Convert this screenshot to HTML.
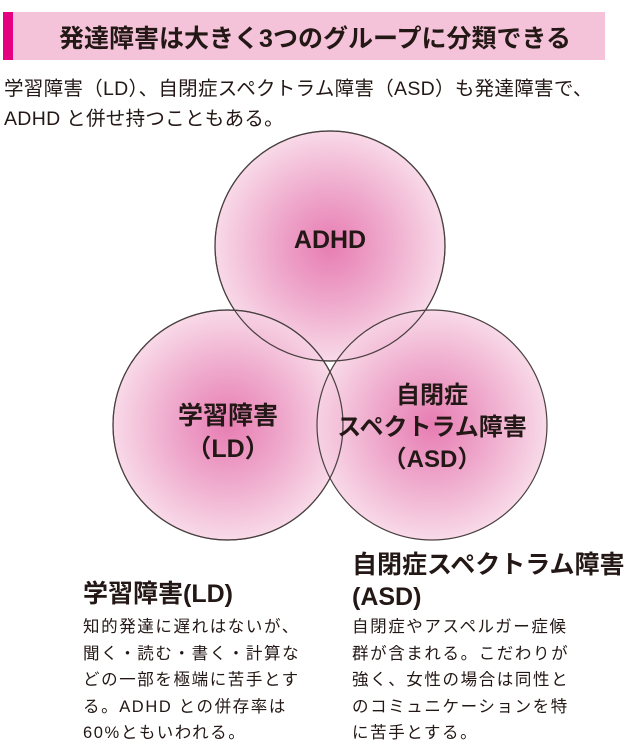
<!DOCTYPE html>
<html><head><meta charset="utf-8"><style>
body{margin:0;width:630px;height:741px;background:#fff;position:relative;overflow:hidden;font-family:"Liberation Sans","Noto Sans CJK JP",sans-serif;color:#231815}
.t{position:absolute;white-space:nowrap}
</style></head><body>
<div style="position:absolute;left:3px;top:12px;width:602px;height:48px;background:#f5c3d9"></div>
<div style="position:absolute;left:3px;top:12px;width:10px;height:48px;background:#e4007f"></div>
<div class="t" style="left:0;width:630px;text-align:center;top:19px;font-size:25px;font-weight:bold">発達障害は大きく3つのグループに分類できる</div>
<div class="t" style="left:4px;top:74px;font-size:19.5px;line-height:30px;letter-spacing:0.3px">学習障害（LD）、自閉症スペクトラム障害（ASD）も発達障害で、<br>ADHD と併せ持つこともある。</div>
<svg style="position:absolute;left:0;top:0" width="630" height="741">
<defs><radialGradient id="g"><stop offset="0" stop-color="#e366a5"/><stop offset="0.5" stop-color="#ec9ac3"/><stop offset="1" stop-color="#f7d3e4"/></radialGradient></defs>
<g stroke="#4a4040" stroke-width="1.2" fill="url(#g)" fill-opacity="0.85">
<circle cx="330" cy="246" r="115"/>
<circle cx="228" cy="425" r="115"/>
<circle cx="432" cy="425" r="115"/>
</g>
<g fill="none" stroke="#4a4040" stroke-width="1.2"><circle cx="330" cy="246" r="115"/><circle cx="228" cy="425" r="115"/></g>
</svg>
<div class="t" style="left:230px;width:200px;text-align:center;top:226px;font-size:25px;font-weight:bold">ADHD</div>
<div class="t" style="left:128px;width:200px;text-align:center;top:400px;font-size:25px;font-weight:bold;line-height:33px">学習障害<br>（LD）</div>
<div class="t" style="left:332px;width:200px;text-align:center;top:380px;font-size:24px;font-weight:bold;line-height:32px">自閉症<br>スペクトラム障害<br>（ASD）</div>
<div class="t" style="left:83px;top:574px;font-size:25px;font-weight:bold">学習障害(LD)</div>
<div class="t" style="left:83px;top:614px;font-size:16.5px;line-height:26.5px;letter-spacing:1.6px">知的発達に遅れはないが、<br>聞く・読む・書く・計算な<br>どの一部を極端に苦手とす<br>る。ADHD との併存率は<br>60%ともいわれる。</div>
<div class="t" style="left:352px;top:549px;font-size:25px;font-weight:bold;line-height:32px">自閉症スペクトラム障害<br>(ASD)</div>
<div class="t" style="left:352px;top:614px;font-size:16.5px;line-height:26.5px;letter-spacing:1.6px">自閉症やアスペルガー症候<br>群が含まれる。こだわりが<br>強く、女性の場合は同性と<br>のコミュニケーションを特<br>に苦手とする。</div>
</body></html>
